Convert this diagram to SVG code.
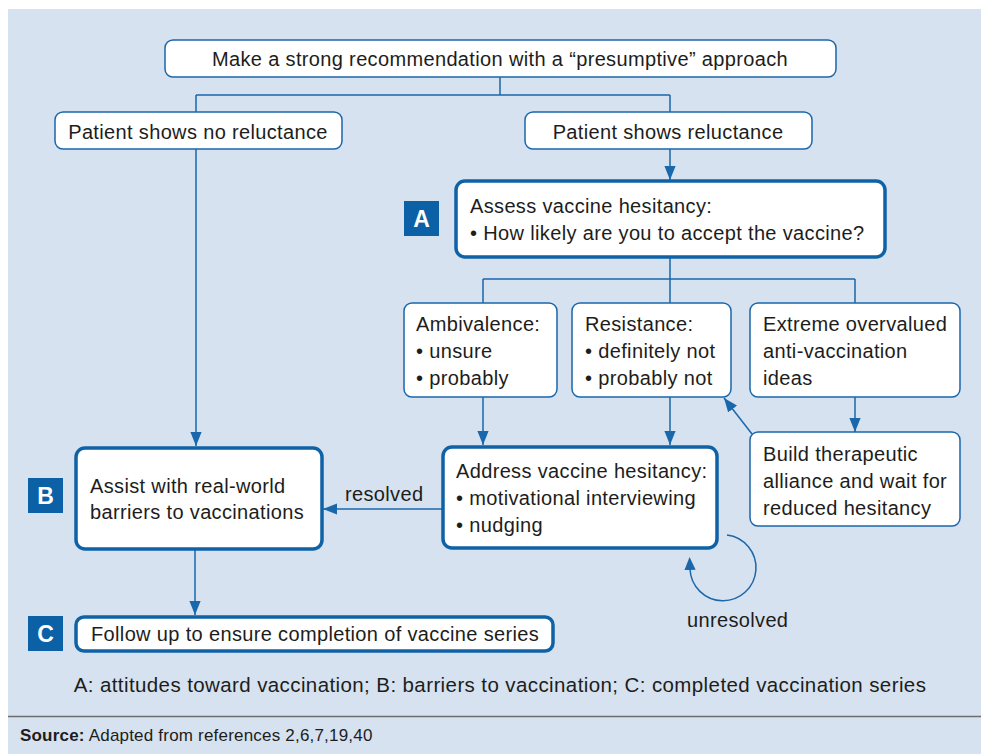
<svg xmlns="http://www.w3.org/2000/svg" width="981" height="754" viewBox="0 0 981 754">
<defs>
<style>
.bg{fill:#d6e2f0}
.box{fill:#fff;stroke:#1a67ab;stroke-width:1.5}
.tbox{fill:#fff;stroke:#0f62a6;stroke-width:3.5}
.ln{fill:none;stroke:#1a67ab;stroke-width:1.5}
.t{font-family:"Liberation Sans",Arial,Helvetica,sans-serif;font-size:20px;letter-spacing:0.35px;fill:#1d1d1b}
.leg{font-family:"Liberation Sans",Arial,Helvetica,sans-serif;font-size:20.5px;letter-spacing:0.4px;fill:#1d1d1b}
.lab{fill:#0b60a6}
.lt{font-family:"Liberation Sans",Arial,Helvetica,sans-serif;font-size:23px;font-weight:bold;fill:#fff}
.src{font-family:"Liberation Sans",Arial,Helvetica,sans-serif;font-size:17px;letter-spacing:0.2px;fill:#1d1d1b}
</style>
<marker id="ah" markerUnits="userSpaceOnUse" markerWidth="14" markerHeight="12" refX="15" refY="6" orient="auto" viewBox="0 0 15 12">
<path d="M0,0 L15,6 L0,12 z" fill="#1a67ab"/>
</marker>
<marker id="ah2" markerUnits="userSpaceOnUse" markerWidth="14" markerHeight="12" refX="1" refY="6" orient="auto" viewBox="0 0 15 12">
<path d="M0,0 L14,6 L0,12 z" fill="#1a67ab"/>
</marker>
</defs>
<rect class="bg" x="8" y="9" width="973" height="745"/>
<line x1="8" y1="716.5" x2="981" y2="716.5" stroke="#6e6e6e" stroke-width="1.5"/>

<g id="connectors">
<path class="ln" d="M500,77 V95 M196,95 H670 M196,95 V112 M670,95 V112"/>
<path class="ln" d="M670,149 V180" marker-end="url(#ah)"/>
<path class="ln" d="M670,257 V279 M483,279 H855 M483,279 V303 M670,279 V303 M855,279 V303"/>
<path class="ln" d="M483,397 V445" marker-end="url(#ah)"/>
<path class="ln" d="M670,397 V445" marker-end="url(#ah)"/>
<path class="ln" d="M855,397 V432" marker-end="url(#ah)"/>
<path class="ln" d="M752,434 L724,398" marker-end="url(#ah)"/>
<path class="ln" d="M196,149 V446" marker-end="url(#ah)"/>
<path class="ln" d="M442,509 H323" marker-end="url(#ah)"/>
<path class="ln" d="M195,549 V615" marker-end="url(#ah)"/>
<path class="ln" d="M727,535 A33,33 0 1 1 690,569" marker-end="url(#ah2)"/>
<text class="t" x="345" y="501">resolved</text>
<text class="t" x="687" y="627">unresolved</text>
</g>

<g id="n-top">
<rect class="box" x="165" y="40" width="671" height="37" rx="8"/>
<text class="t" x="500" y="66" text-anchor="middle">Make a strong recommendation with a “presumptive” approach</text>
</g>
<g id="n-noreluct">
<rect class="box" x="55" y="112" width="287" height="37" rx="8"/>
<text class="t" x="198" y="139" text-anchor="middle">Patient shows no reluctance</text>
</g>
<g id="n-reluct">
<rect class="box" x="525" y="112" width="287" height="37" rx="8"/>
<text class="t" x="668" y="139" text-anchor="middle">Patient shows reluctance</text>
</g>
<g id="n-assess">
<rect class="tbox" x="456" y="181" width="429" height="76" rx="9"/>
<text class="t" x="470" y="213">Assess vaccine hesitancy:</text>
<text class="t" x="470" y="240">• How likely are you to accept the vaccine?</text>
</g>
<g id="label-a">
<rect class="lab" x="404" y="201" width="35" height="35"/>
<text class="lt" x="421.5" y="227" text-anchor="middle">A</text>
</g>
<g id="n-ambiv">
<rect class="box" x="404" y="303" width="153" height="94" rx="8"/>
<text class="t" x="416" y="331">Ambivalence:</text>
<text class="t" x="416" y="358">• unsure</text>
<text class="t" x="416" y="385">• probably</text>
</g>
<g id="n-resist">
<rect class="box" x="572" y="303" width="159" height="94" rx="8"/>
<text class="t" x="585" y="331">Resistance:</text>
<text class="t" x="585" y="358">• definitely not</text>
<text class="t" x="585" y="385">• probably not</text>
</g>
<g id="n-extreme">
<rect class="box" x="750" y="303" width="210" height="94" rx="8"/>
<text class="t" x="763" y="331">Extreme overvalued</text>
<text class="t" x="763" y="358">anti-vaccination</text>
<text class="t" x="763" y="385">ideas</text>
</g>
<g id="n-build">
<rect class="box" x="750" y="432" width="210" height="94" rx="8"/>
<text class="t" x="763" y="461">Build therapeutic</text>
<text class="t" x="763" y="488">alliance and wait for</text>
<text class="t" x="763" y="515">reduced hesitancy</text>
</g>
<g id="n-address">
<rect class="tbox" x="443" y="447" width="274" height="101" rx="9"/>
<text class="t" x="456" y="478">Address vaccine hesitancy:</text>
<text class="t" x="456" y="505">• motivational interviewing</text>
<text class="t" x="456" y="532">• nudging</text>
</g>
<g id="n-assist">
<rect class="tbox" x="76" y="448" width="246" height="101" rx="9"/>
<text class="t" x="90" y="493">Assist with real-world</text>
<text class="t" x="90" y="519">barriers to vaccinations</text>
</g>
<g id="label-b">
<rect class="lab" x="28" y="478" width="35" height="35"/>
<text class="lt" x="45.5" y="504" text-anchor="middle">B</text>
</g>
<g id="n-follow">
<rect class="tbox" x="76" y="617" width="477" height="34" rx="8"/>
<text class="t" x="91" y="641">Follow up to ensure completion of vaccine series</text>
</g>
<g id="label-c">
<rect class="lab" x="28" y="616" width="35" height="35"/>
<text class="lt" x="45.5" y="642" text-anchor="middle">C</text>
</g>

<text class="leg" x="500" y="692" text-anchor="middle">A: attitudes toward vaccination; B: barriers to vaccination; C: completed vaccination series</text>
<text class="src" x="20" y="741"><tspan font-weight="bold">Source:</tspan> Adapted from references 2,6,7,19,40</text>
</svg>
